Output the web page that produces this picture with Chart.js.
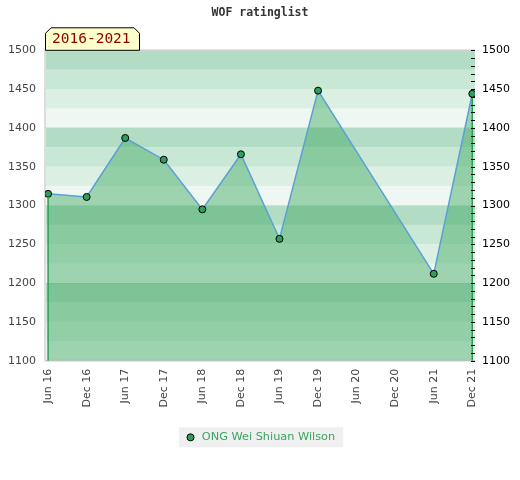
<!DOCTYPE html>
<html>
<head>
<meta charset="utf-8">
<script src="https://cdn.jsdelivr.net/npm/chart.js@4/dist/chart.umd.min.js"></script>
<style>
  html, body { margin: 0; padding: 0; background: #fff; }
  #wrap { width: 520px; height: 480px; }
</style>
</head>
<body>
<div id="wrap"><canvas id="rating-chart" width="520" height="480"></canvas></div>
<script>
const categories = ["Jun 16", "Dec 16", "Jun 17", "Dec 17", "Jun 18", "Dec 18",
  "Jun 19", "Dec 19", "Jun 20", "Dec 20", "Jun 21", "Dec 21"];
const ratings = [1315, 1311, 1387, 1359, 1295, 1366, 1257, 1448, null, null, 1212, 1444];
const yTicks = [1100, 1150, 1200, 1250, 1300, 1350, 1400, 1450, 1500];
const playerName = "ONG Wei Shiuan Wilson";
const chartTitle = "WOF ratinglist";
const periodLabel = "2016-2021";

const bandColors = ["#eef7f1", "#dcefe3", "#c9e7d5", "#b3dcc4"];

// stripes behind the plot, lines at the fill edges, minor ticks, period badge
const decorPlugin = {
  id: "decor",
  beforeDraw(chart) {
    const { ctx, chartArea: a, scales } = chart;
    const y = scales.y;
    ctx.save();
    for (let v = y.min; v < y.max; v += 25) {
      const top = y.getPixelForValue(v + 25);
      const bot = y.getPixelForValue(v);
      ctx.fillStyle = bandColors[((v - y.min) / 25) % 4];
      ctx.fillRect(a.left, top, a.right - a.left, bot - top);
    }
    ctx.strokeStyle = "#dddddd";
    ctx.lineWidth = 2;
    ctx.beginPath();
    ctx.moveTo(a.right, a.top);
    ctx.lineTo(a.left, a.top);
    ctx.lineTo(a.left, a.bottom);
    ctx.lineTo(a.right, a.bottom);
    ctx.stroke();

    const hb = chart.legend && chart.legend.legendHitBoxes[0];
    if (hb) {
      ctx.fillStyle = "#f0f0f0";
      ctx.fillRect(hb.left - 6, hb.top + hb.height / 2 - 10, hb.width + 14, 20);
    }
    ctx.restore();
  },
  afterDatasetsDraw(chart) {
    const { ctx, chartArea: a } = chart;
    const pts = chart.getDatasetMeta(0).data.filter(p => !p.skip);
    ctx.save();
    ctx.strokeStyle = "#2a9e55";
    ctx.lineWidth = 1.5;
    [pts[0], pts[pts.length - 1]].forEach(p => {
      ctx.beginPath();
      ctx.moveTo(p.x, p.y + 3);
      ctx.lineTo(p.x, a.bottom);
      ctx.stroke();
    });
    ctx.restore();
  },
  afterDraw(chart) {
    const { ctx, chartArea: a, scales } = chart;
    const y2 = scales.y2;
    ctx.save();
    ctx.strokeStyle = "#000";
    ctx.lineWidth = 1;
    for (let v = y2.min; v <= y2.max; v += 10) {
      const py = Math.round(y2.getPixelForValue(v)) + 0.5;
      ctx.beginPath();
      ctx.moveTo(a.right - 4, py);
      ctx.lineTo(a.right, py);
      ctx.stroke();
    }

    // badge
    const x0 = a.left, x1 = a.left + 95, yb = a.top, yt = a.top - 23, c = 6;
    ctx.beginPath();
    ctx.moveTo(x0 + 0.5, yb);
    ctx.lineTo(x0 + 0.5, yt + c);
    ctx.lineTo(x0 + c, yt + 0.5);
    ctx.lineTo(x1 - c, yt + 0.5);
    ctx.lineTo(x1 - 0.5, yt + c);
    ctx.lineTo(x1 - 0.5, yb);
    ctx.closePath();
    ctx.fillStyle = "#ffffcc";
    ctx.fill();
    ctx.strokeStyle = "#000";
    ctx.stroke();
    ctx.fillStyle = "#8b0000";
    ctx.font = "14.5px 'DejaVu Sans Mono', monospace";
    ctx.textBaseline = "middle";
    ctx.fillText(periodLabel, x0 + 7, yt + 12);
    ctx.restore();
  },
};

const config = {
  type: "line",
  data: {
    datasets: [
      {
        label: playerName,
        data: ratings.map((v, i) => ({ x: i, y: v })),
        borderColor: "#5aa0d8",
        borderWidth: 1.5,
        backgroundColor: "rgba(54, 166, 89, 0.44)",
        pointBackgroundColor: "#2f9e5c",
        pointBorderColor: "#000",
        pointBorderWidth: 1,
        pointRadius: 3.5,
        fill: "start",
        spanGaps: true,
        tension: 0,
      },
    ],
  },
  options: {
    responsive: false,
    animation: false,
    layout: { padding: { left: 0, right: 0, top: 0, bottom: 27 } },
    plugins: {
      title: {
        display: true,
        text: chartTitle,
        color: "#333",
        font: { family: "'DejaVu Sans Mono', monospace", size: 11.5, weight: "bold" },
        padding: { top: 6, bottom: 30.5 },
      },
      legend: {
        display: true,
        position: "bottom",
        labels: {
          usePointStyle: true,
          boxWidth: 16,
          boxHeight: 5,
          color: "#3aa55e",
          padding: 10,
          font: { family: "'DejaVu Sans', sans-serif", size: 11.3 },
        },
      },
      tooltip: { enabled: false },
    },
    scales: {
      x: {
        type: "linear",
        min: -0.08,
        max: 11.07,
        afterBuildTicks: (s) => { s.ticks = categories.map((c, i) => ({ value: i })); },
        afterFit: (s) => { s.height = 61; },
        grid: { display: false, drawTicks: false },
        border: { display: false },
        ticks: {
          autoSkip: false,
          minRotation: 90,
          maxRotation: 90,
          padding: 8,
          color: "#444",
          font: { family: "'DejaVu Sans', sans-serif", size: 11 },
          callback: (v) => categories[v],
        },
      },
      y: {
        position: "left",
        min: 1100,
        max: 1500,
        afterBuildTicks: (s) => { s.ticks = yTicks.map(v => ({ value: v })); },
        afterFit: (s) => { s.width = 45; },
        grid: {
          drawTicks: false,
          color: (c) => (c.tick && c.tick.value % 100 === 0 ? "rgba(0,0,0,0.07)" : "rgba(0,0,0,0)"),
        },
        border: { display: false },
        ticks: {
          padding: 9,
          color: "#444",
          font: { family: "'DejaVu Sans', sans-serif", size: 11 },
          callback: (v) => String(v),
        },
      },
      y2: {
        position: "right",
        min: 1100,
        max: 1500,
        afterBuildTicks: (s) => { s.ticks = yTicks.map(v => ({ value: v })); },
        afterFit: (s) => { s.width = 45; },
        grid: { display: false, drawTicks: false },
        border: { display: false },
        ticks: {
          padding: 7,
          color: "#000",
          font: { family: "'DejaVu Sans', sans-serif", size: 11 },
          callback: (v) => String(v),
        },
      },
    },
  },
  plugins: [decorPlugin],
};

const ctx = document.getElementById("rating-chart").getContext("2d");
const ratingChart = new Chart(ctx, config);
</script>
</body>
</html>
